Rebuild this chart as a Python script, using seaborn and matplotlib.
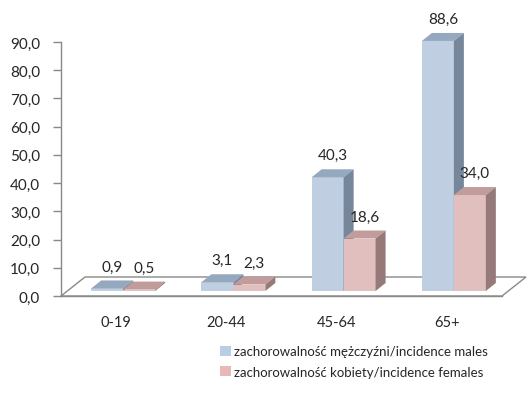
import matplotlib
matplotlib.use("Agg")
import matplotlib.pyplot as plt
import matplotlib.transforms as mtransforms
from matplotlib.patches import Polygon, Patch
import numpy as np
import pandas as pd
import seaborn as sns

# data
age_groups = ["0-19", "20-44", "45-64", "65+"]
males = [0.9, 3.1, 40.3, 88.6]
females = [0.5, 2.3, 18.6, 34.0]
series_names = ["zachorowalność mężczyźni/incidence males",
                "zachorowalność kobiety/incidence females"]
y_ticks = [0, 10, 20, 30, 40, 50, 60, 70, 80, 90]

FRONT = ["#B9CDE5", "#E6B9B8"]
TOP = ["#95A8BF", "#C29C9B"]
SIDE = ["#76879B", "#967A7A"]
EDGE = "#898989"

DPI = 100
BAR_OFF = (7, 5)      # bars sit a bit behind the floor front edge (px)
BAR_DEPTH = (10, 8)   # 3d depth of each column (px)
FLOOR_DEPTH = (24, 19)
NUM_SIZE = 11

sns.set_style("white")
plt.rcParams["font.family"] = ["Lato", "DejaVu Sans"]

df = pd.DataFrame({
    "group": age_groups * 2,
    "value": males + females,
    "series": [series_names[0]] * 4 + [series_names[1]] * 4,
})

fig = plt.figure(figsize=(5.28, 4.06), dpi=DPI)
ax = fig.add_axes([61 / 528, 1 - 297 / 406, (502 - 61) / 528, (297 - 43) / 406])

sns.barplot(data=df, x="group", y="value", hue="series", palette=FRONT,
            width=0.58, linewidth=0, legend=False, ax=ax, errorbar=None)

ax.set_xlim(-0.5, 3.5)
ax.set_ylim(0, 90)
ax.set_yticks(y_ticks)
ax.set_yticklabels([f"{v:.1f}".replace(".", ",") for v in y_ticks], fontsize=NUM_SIZE)
ax.set_xticks(range(4))
ax.set_xticklabels(age_groups, fontsize=NUM_SIZE - 0.5)
ax.set_xticks(np.arange(-0.5, 4, 1), minor=True)
ax.tick_params(axis="x", which="major", length=0, pad=14)
ax.tick_params(axis="x", which="minor", length=5, color=EDGE, width=1)
ax.tick_params(axis="y", length=6, color=EDGE, width=1, left=True, pad=9)
ax.set_xlabel("")
ax.set_ylabel("")
for side in ["top", "right"]:
    ax.spines[side].set_visible(False)
for side in ["left", "bottom"]:
    ax.spines[side].set_color(EDGE)
    ax.spines[side].set_linewidth(1)
ax.patch.set_alpha(0)

ident = mtransforms.IdentityTransform()

# floor
x0, x1 = ax.get_xlim()
fl = ax.transData.transform([(x0, 0), (x1, 0)])
floor = [fl[0], fl[1], fl[1] + FLOOR_DEPTH, fl[0] + FLOOR_DEPTH]
ax.add_patch(Polygon(floor, closed=True, facecolor="white", edgecolor=EDGE,
                     linewidth=1, transform=ident, clip_on=False, zorder=0.5))

bar_tf = mtransforms.offset_copy(ax.transData, fig=fig, x=BAR_OFF[0],
                                 y=BAR_OFF[1], units="dots")
n = len(age_groups)
for i, bar in enumerate(ax.patches[:2 * n]):
    s = i // n
    bar.set_transform(bar_tf)
    bar.set_zorder(2 + s)
    bar.set_clip_on(False)
    bx, by, bw, bh = bar.get_x(), bar.get_y(), bar.get_width(), bar.get_height()
    (lx, ly), (rx, ry) = bar_tf.transform([(bx, by), (bx + bw, by + bh)])
    dx, dy = BAR_DEPTH
    top = [(lx, ry), (rx, ry), (rx + dx, ry + dy), (lx + dx, ry + dy)]
    sidef = [(rx, ly), (rx, ry), (rx + dx, ry + dy), (rx + dx, ly + dy)]
    ax.add_patch(Polygon(top, closed=True, facecolor=TOP[s], edgecolor="none",
                         transform=ident, clip_on=False, zorder=2 + s))
    ax.add_patch(Polygon(sidef, closed=True, facecolor=SIDE[s], edgecolor="none",
                         transform=ident, clip_on=False, zorder=2 + s))
    ax.annotate(f"{bh:.1f}".replace(".", ","), xy=((lx + rx) / 2 + 5, ry),
                xycoords=ident, xytext=(0, 22), textcoords="offset pixels",
                ha="center", va="center", fontsize=NUM_SIZE, zorder=5)

handles = [Patch(facecolor=FRONT[0], edgecolor="none"),
           Patch(facecolor=FRONT[1], edgecolor="none")]
fig.legend(handles, series_names, loc="upper left",
           bbox_to_anchor=(211 / 528, 1 - 337 / 406), frameon=False,
           fontsize=9.5, handlelength=0.8, handleheight=0.8,
           handletextpad=0.25, labelspacing=0.65, borderpad=0.2)

fig.savefig("out.png", dpi=DPI)
plt.close(fig)
